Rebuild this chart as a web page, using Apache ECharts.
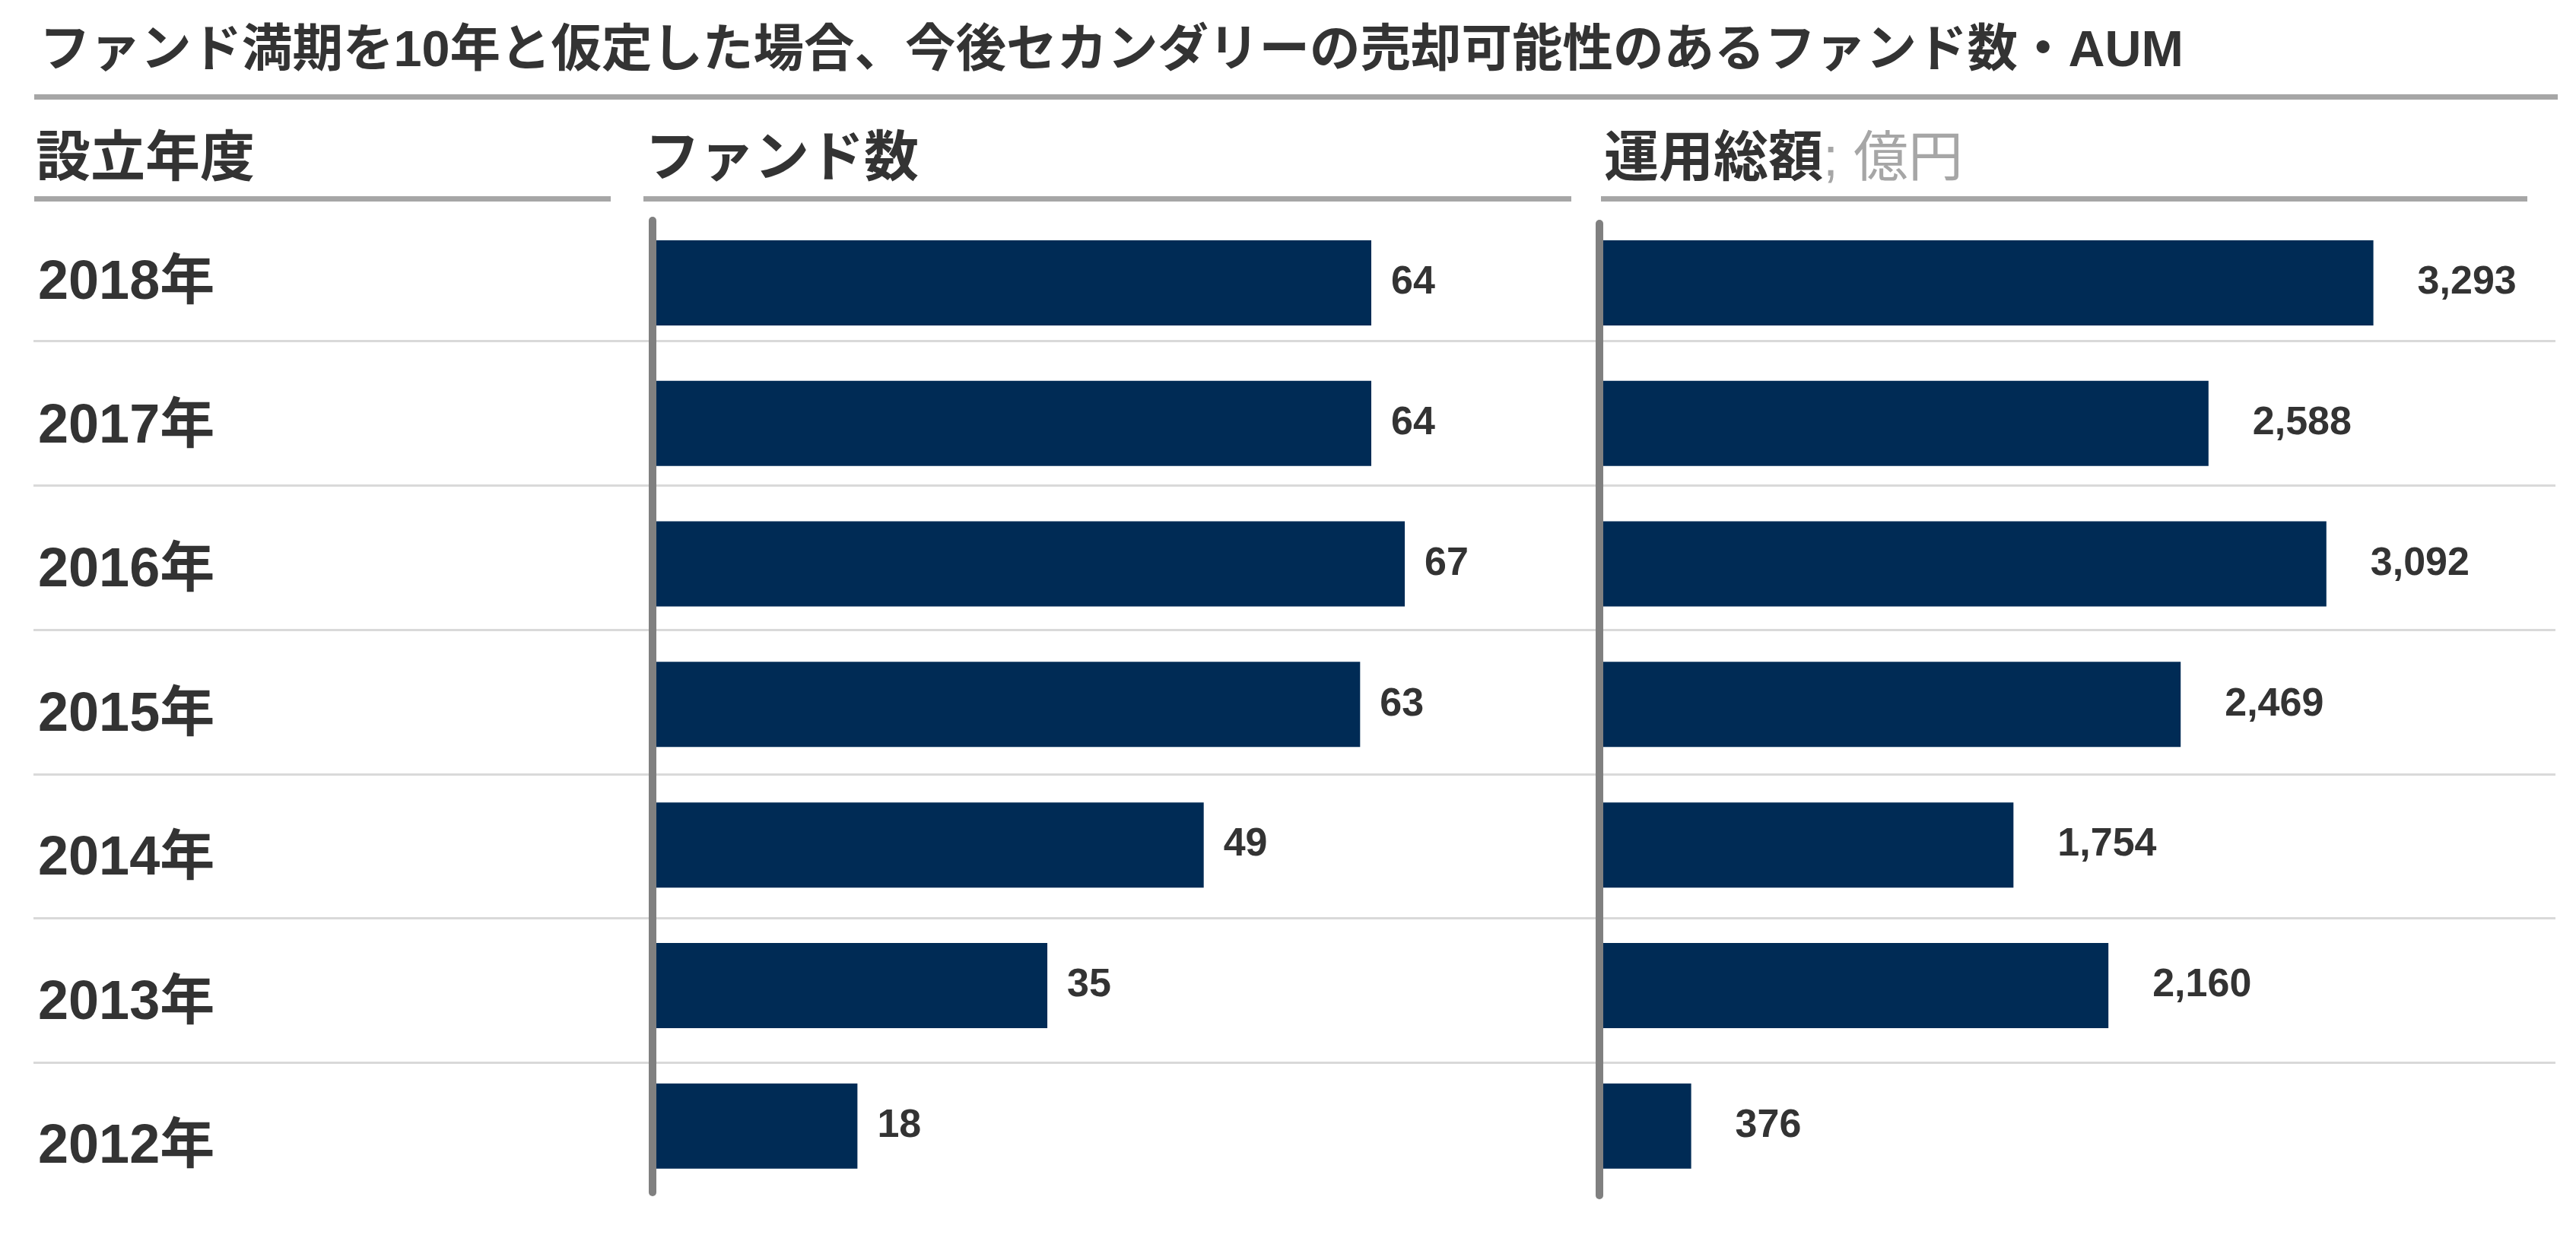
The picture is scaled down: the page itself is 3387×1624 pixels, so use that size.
<!DOCTYPE html>
<html>
<head>
<meta charset="utf-8">
<script src="https://cdn.jsdelivr.net/npm/echarts@6/dist/echarts.min.js"></script>
<style>
html,body{margin:0;padding:0;background:#fff;}
#chart{width:3387px;height:1624px;}
</style>
</head>
<body>
<div id="chart"></div>
<script>
// ---- data ----
const titleText = 'ファンド満期を10年と仮定した場合、今後セカンダリーの売却可能性のあるファンド数・AUM';
const headerYear = '設立年度';
const headerCount = 'ファンド数';
const headerAum = '運用総額';
const headerAumUnit = '; 億円';
const years = ['2018年', '2017年', '2016年', '2015年', '2014年', '2013年', '2012年'];
const fundCounts = [64, 64, 67, 63, 49, 35, 18];
const aumValues = [3293, 2588, 3092, 2469, 1754, 2160, 376];

// ---- styles ----
const FONT = "'Liberation Sans', 'Noto Sans CJK JP', sans-serif";
const TXT = '#333333';
const NAVY = '#002B55';
const LINEGREY = '#A6A6A6';
const AXISGREY = '#808080';
const SEPGREY = '#D9D9D9';

function fmt(v) {
  return String(v).replace(/\B(?=(\d{3})+(?!\d))/g, ',');
}

const chart = echarts.init(document.getElementById('chart'), null, {renderer: 'canvas'});

const hiddenX = (gi) => ({type: 'value', gridIndex: gi, min: 0, max: 1, show: false});

const option = {
  animation: false,
  backgroundColor: '#ffffff',
  title: [
    {text: titleText, left: 47, top: 30,
     textStyle: {fontFamily: FONT, fontSize: 66.5, fontWeight: 'bold', color: TXT}},
    {text: headerYear, left: 42, top: 170,
     textStyle: {fontFamily: FONT, fontSize: 72, fontWeight: 'bold', color: TXT}},
    {text: headerCount, left: 843, top: 170,
     textStyle: {fontFamily: FONT, fontSize: 72, fontWeight: 'bold', color: TXT}},
    {text: '{a|' + headerAum + '}{b|' + headerAumUnit + '}', left: 2104, top: 170,
     textStyle: {fontFamily: FONT, fontSize: 72, fontWeight: 'bold', color: TXT,
       rich: {
         a: {fontFamily: FONT, fontSize: 72, fontWeight: 'bold', color: TXT},
         b: {fontFamily: FONT, fontSize: 72, fontWeight: 'normal', color: LINEGREY}
       }}}
  ],
  graphic: [
    {type: 'rect', shape: {x: 45, y: 124, width: 3318, height: 7}, style: {fill: LINEGREY}},
    {type: 'rect', shape: {x: 45, y: 258, width: 758, height: 7}, style: {fill: LINEGREY}},
    {type: 'rect', shape: {x: 846, y: 258, width: 1220, height: 7}, style: {fill: LINEGREY}},
    {type: 'rect', shape: {x: 2105, y: 258, width: 1218, height: 7}, style: {fill: LINEGREY}}
  ],
  grid: [
    {left: 44, top: 258.7, width: 3316, height: 1328.6},   // separators
    {left: 50, top: 278, width: 600, height: 1326},        // year labels
    {left: 863, top: 279.6, width: 1175, height: 1293.5},  // fund counts
    {left: 2108, top: 279.6, width: 1107, height: 1293.5}, // AUM
    {left: 858, top: 290, width: 100, height: 1278},       // axis line col 2
    {left: 2103, top: 294, width: 100, height: 1278}       // axis line col 3
  ],
  xAxis: [
    hiddenX(0),
    hiddenX(1),
    {type: 'value', gridIndex: 2, min: 0, max: 80, show: false},
    {type: 'value', gridIndex: 3, min: 0, max: 3600, show: false},
    hiddenX(4),
    hiddenX(5)
  ],
  yAxis: [
    {type: 'category', gridIndex: 0, data: years, inverse: true,
     axisLine: {show: false}, axisTick: {show: false}, axisLabel: {show: false},
     splitLine: {show: true, showMinLine: false, showMaxLine: false,
       lineStyle: {color: SEPGREY, width: 3}}},
    {type: 'category', gridIndex: 1, data: years, inverse: true,
     axisLine: {show: false}, axisTick: {show: false}, splitLine: {show: false},
     axisLabel: {show: true, inside: true, margin: 0, align: 'left',
       fontFamily: FONT, fontSize: 72, fontWeight: 'bold', color: TXT}},
    {type: 'category', gridIndex: 2, data: years, inverse: true,
     axisLine: {show: false}, axisTick: {show: false}, axisLabel: {show: false}, splitLine: {show: false}},
    {type: 'category', gridIndex: 3, data: years, inverse: true,
     axisLine: {show: false}, axisTick: {show: false}, axisLabel: {show: false}, splitLine: {show: false}},
    {type: 'category', gridIndex: 4, data: years, inverse: true,
     axisLine: {show: true, lineStyle: {color: AXISGREY, width: 10}},
     axisTick: {show: false}, axisLabel: {show: false}, splitLine: {show: false}},
    {type: 'category', gridIndex: 5, data: years, inverse: true,
     axisLine: {show: true, lineStyle: {color: AXISGREY, width: 10}},
     axisTick: {show: false}, axisLabel: {show: false}, splitLine: {show: false}}
  ],
  series: [
    {type: 'bar', xAxisIndex: 2, yAxisIndex: 2, data: fundCounts, barWidth: 112,
     itemStyle: {color: NAVY},
     label: {show: true, position: 'right', distance: 26, formatter: (p) => fmt(p.value),
       fontFamily: FONT, fontSize: 52, fontWeight: 'bold', color: TXT}},
    {type: 'bar', xAxisIndex: 3, yAxisIndex: 3, data: aumValues, barWidth: 112,
     itemStyle: {color: NAVY},
     label: {show: true, position: 'right', distance: 58, formatter: (p) => fmt(p.value),
       fontFamily: FONT, fontSize: 52, fontWeight: 'bold', color: TXT}}
  ]
};
chart.setOption(option);
</script>
</body>
</html>
